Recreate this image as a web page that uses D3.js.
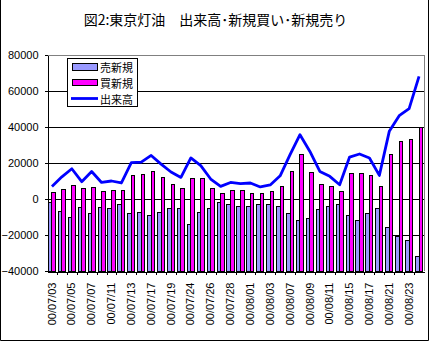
<!DOCTYPE html>
<html><head><meta charset="utf-8">
<script src="https://cdn.jsdelivr.net/npm/d3@7"></script>
<style>body{margin:0;background:#fff;} svg{display:block;}</style>
</head><body>
<svg id="c" width="429" height="341"></svg>
<script>
const dates=["00/07/03","00/07/04","00/07/05","00/07/06","00/07/07","00/07/10","00/07/11","00/07/12","00/07/13","00/07/14","00/07/17","00/07/18","00/07/19","00/07/21","00/07/24","00/07/25","00/07/26","00/07/27","00/07/28","00/07/31","00/08/01","00/08/02","00/08/03","00/08/04","00/08/07","00/08/08","00/08/09","00/08/10","00/08/11","00/08/14","00/08/15","00/08/16","00/08/17","00/08/18","00/08/21","00/08/22","00/08/23","00/08/24"];
const sellNew=[-1900,-6900,-10200,-4700,-8000,-4800,-5400,-3200,-8100,-7700,-9400,-7700,-5500,-5000,-14400,-7700,-5500,-2200,-3300,-3900,-4400,-3300,-2800,-3900,-8300,-12200,-11100,-6100,-4400,-2800,-8900,-12200,-8300,-5000,-16100,-20700,-23300,-32200];
const buyNew=[3700,5200,7400,5900,6300,4100,4600,4600,13100,13500,15100,11800,7900,5600,11200,11200,6100,3300,5000,5000,3300,3300,3900,7200,15100,24600,15000,8300,7200,4400,13900,13900,13300,7200,24600,31800,32900,40000];
const volume=[7000,12300,16800,9600,15300,9200,10000,8900,20200,20500,24200,19400,15000,12000,22800,18500,11100,7000,9200,8500,8900,6700,7800,12900,24600,35700,26400,15300,12600,7900,23300,25000,22800,13100,37600,46300,50200,68100];
const yTicks=[-40000,-20000,0,20000,40000,60000,80000];
const titleText="図2:東京灯油　出来高･新規買い･新規売り";
const seriesNames=["売新規","買新規","出来高"];
const colors={sell:"#9999FF",buy:"#FF00FF",vol:"#0000FF"};

const svg=d3.select("#c");
const W=429,H=341;
const L=47,R=424,T=55,B=271;
const jp="'Noto Sans CJK JP','Noto Sans',sans-serif";
const num="'Liberation Sans',Arial,sans-serif";

svg.append("rect").attr("width",W).attr("height",H).attr("fill","#fff");
// outer frame (left, right, bottom)
svg.append("path").attr("d",`M0.5,0 V${H-0.5} H${W-0.5} V0`).attr("fill","none").attr("stroke","#000");

const x=d3.scaleBand().domain(dates).range([L,R]).padding(0);
const xi=d3.scaleBand().domain(["sell","buy"]).range([0,x.bandwidth()]).paddingInner(0).paddingOuter(0.4);
const y=d3.scaleLinear().domain([-40000,80000]).range([B,T]);

// gridlines
svg.append("g").selectAll("line").data(yTicks.filter(v=>v>-40000&&v<80000)).join("line")
 .attr("x1",L).attr("x2",R).attr("y1",d=>Math.round(y(d))+0.5).attr("y2",d=>Math.round(y(d))+0.5)
 .attr("stroke","#000").attr("shape-rendering","crispEdges");
// plot border top/right gray
svg.append("path").attr("d",`M${L},${T+0.5} H${R+0.5} V${B}`).attr("fill","none").attr("stroke","#808080").attr("shape-rendering","crispEdges");

// bars (from axis bottom)
const base=y(-40000);
const g=svg.append("g");
g.selectAll("rect.s").data(dates).join("rect").attr("class","s")
 .attr("x",d=>x(d)+xi("sell")).attr("width",xi.bandwidth())
 .attr("y",(d,i)=>y(sellNew[i])).attr("height",(d,i)=>base-y(sellNew[i]))
 .attr("fill",colors.sell).attr("stroke","#000").attr("stroke-width",1).attr("shape-rendering","crispEdges");
g.selectAll("rect.b").data(dates).join("rect").attr("class","b")
 .attr("x",d=>x(d)+xi("buy")).attr("width",xi.bandwidth())
 .attr("y",(d,i)=>y(buyNew[i])).attr("height",(d,i)=>base-y(buyNew[i]))
 .attr("fill",colors.buy).attr("stroke","#000").attr("stroke-width",1).attr("shape-rendering","crispEdges");

// line
const line=d3.line().x((d,i)=>x(dates[i])+x.bandwidth()/2).y(d=>y(d));
svg.append("path").datum(volume).attr("d",line).attr("fill","none")
 .attr("stroke",colors.vol).attr("stroke-width",2.8).attr("stroke-linejoin","round");

// y axis
const ya=svg.append("g").attr("transform",`translate(${L+0.5},0)`)
 .call(d3.axisLeft(y).tickValues(yTicks).tickSize(3).tickSizeOuter(0).tickPadding(6).tickFormat(d3.format("d")));
ya.selectAll("text").attr("font-family",num).attr("font-size",11).attr("fill","#000");
ya.selectAll("line,path").attr("stroke","#000").attr("shape-rendering","crispEdges");

// x axis
const xa=svg.append("g").attr("transform",`translate(0,${B+0.5})`)
 .call(d3.axisBottom(x).tickSize(0).tickSizeOuter(0).tickFormat((d,i)=>i%2===0?d:""));
xa.select("path").attr("stroke","#000").attr("shape-rendering","crispEdges");
xa.selectAll("text").attr("font-family",num).attr("font-size",11).attr("fill","#000")
 .attr("transform","rotate(-90)").attr("text-anchor","end").attr("x",-11).attr("y",0).attr("dy","0.33em");
// category boundary ticks
xa.append("g").selectAll("line").data(dates.slice(1)).join("line")
 .attr("x1",d=>Math.round(x(d))+0.5).attr("x2",d=>Math.round(x(d))+0.5).attr("y1",0).attr("y2",3)
 .attr("stroke","#000").attr("shape-rendering","crispEdges");

// title
svg.append("text").attr("x",215.5).attr("y",18.5).attr("text-anchor","middle").attr("dominant-baseline","central")
 .attr("font-family",jp).attr("font-size",14).attr("fill","#000").text(titleText);

// legend
const lg=svg.append("g");
lg.append("rect").attr("x",67.5).attr("y",58.5).attr("width",70).attr("height",48).attr("fill","#fff").attr("stroke","#000").attr("shape-rendering","crispEdges");
lg.append("rect").attr("x",72.5).attr("y",63.5).attr("width",25).attr("height",7).attr("fill",colors.sell).attr("stroke","#000").attr("shape-rendering","crispEdges");
lg.append("rect").attr("x",72.5).attr("y",79.5).attr("width",25).attr("height",6).attr("fill",colors.buy).attr("stroke","#000").attr("shape-rendering","crispEdges");
lg.append("line").attr("x1",71).attr("x2",98).attr("y1",98.5).attr("y2",98.5).attr("stroke",colors.vol).attr("stroke-width",2.8);
lg.selectAll("text").data(seriesNames).join("text")
 .attr("x",100).attr("y",(d,i)=>[66.5,82.5,99][i]).attr("dominant-baseline","central")
 .attr("font-family",jp).attr("font-size",11).attr("fill","#000").text(d=>d);
</script>
</body></html>
